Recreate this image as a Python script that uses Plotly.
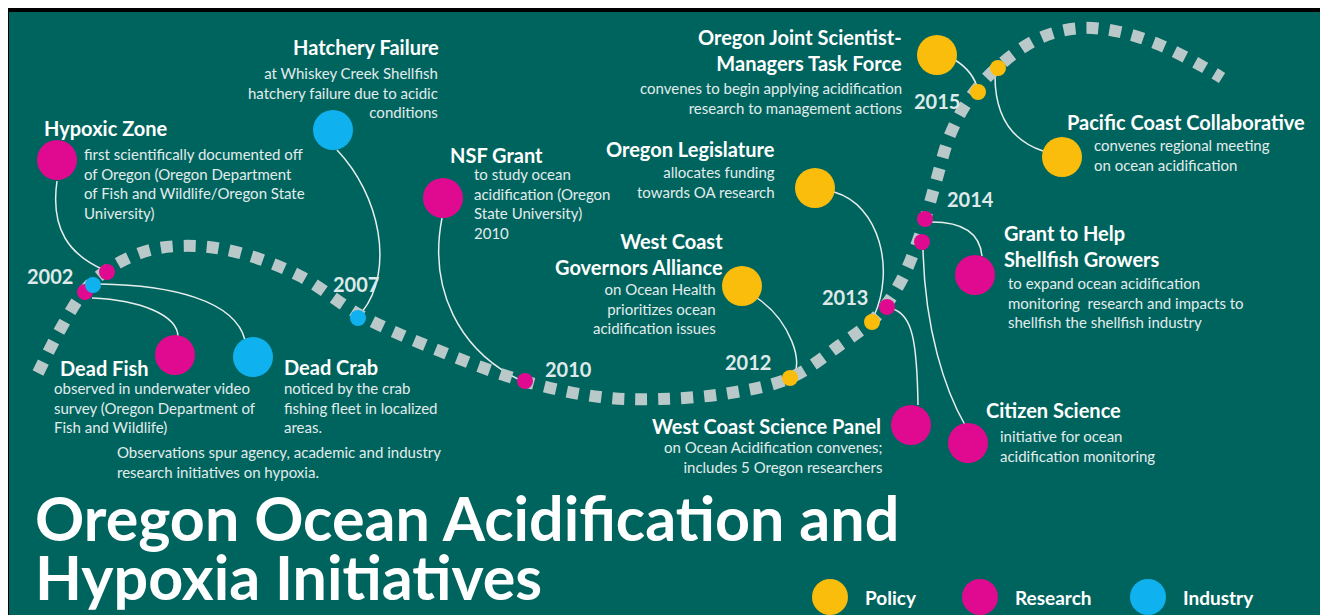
import plotly.graph_objects as go

W, H = 1328, 615
OFF = 8  # page body margin of the html page

# ---------------- data ----------------
titles = ["Hypoxic Zone", "Dead Fish", "Dead Crab", "Hatchery Failure", "NSF Grant",
          "Oregon Legislature", "West Coast<br>Governors Alliance", "West Coast Science Panel",
          "Oregon Joint Scientist-<br>Managers Task Force", "Pacific Coast Collaborative",
          "Grant to Help<br>Shellfish Growers", "Citizen Science"]
descriptions = [
    "first scientifically documented off<br>of Oregon (Oregon Department<br>of Fish and Wildlife/Oregon State<br>University)",
    "observed in underwater video<br>survey (Oregon Department of<br>Fish and Wildlife)",
    "noticed by the crab<br>fishing fleet in localized<br>areas.",
    "at Whiskey Creek Shellfish<br>hatchery failure due to acidic<br>conditions",
    "to study ocean<br>acidification (Oregon<br>State University)<br>2010",
    "allocates funding<br>towards OA research",
    "on Ocean Health<br>prioritizes ocean<br>acidification issues",
    "on Ocean Acidification convenes;<br>includes 5 Oregon researchers",
    "convenes to begin applying acidification<br>research to management actions",
    "convenes regional meeting<br>on ocean acidification",
    "to expand ocean acidification<br>monitoring  research and impacts to<br>shellfish the shellfish industry",
    "initiative for ocean<br>acidification monitoring",
]
categories = ["Research", "Research", "Industry", "Industry", "Research", "Policy",
              "Policy", "Research", "Policy", "Policy", "Research", "Research"]
years = [2002, 2002, 2002, 2007, 2010, 2013, 2012, 2013, 2015, 2015, 2014, 2014]
year_labels = ["2002", "2007", "2010", "2012", "2013", "2014", "2015"]
note_text = "Observations spur agency, academic and industry<br>research initiatives on hypoxia."
main_title = ["Oregon Ocean Acidification and", "Hypoxia Initiatives"]
legend_labels = ["Policy", "Research", "Industry"]

# ---------------- layout positions (pixels) ----------------
big_x = [57, 175, 253, 333, 443, 815, 742, 911, 937, 1062, 975, 968]
big_y = [160, 355, 357, 130, 198, 188, 286, 425, 55, 157, 275, 443]
dot_x = [107, 85, 93, 358, 525, 872, 790, 887, 978, 998, 925, 922]
dot_y = [272, 292, 285, 318, 381, 322, 378, 307, 92, 68, 219, 242]

title_pos = [(42, 128, "left"), (58, 368, "left"), (282, 367, "left"), (441, 47, "right"),
             (448, 155, "left"), (777, 149, "right"), (725, 254, "right"), (883, 426, "right"),
             (904, 50, "right"), (1065, 122, "left"), (1002, 246, "left"), (984, 410, "left")]
desc_pos = [(82, 183, "left"), (52, 407, "left"), (282, 407, "left"), (440, 92, "right"),
            (472, 203, "left"), (777, 182, "right"), (718, 308, "right"), (884, 457, "right"),
            (904, 98, "right"), (1092, 155, "left"), (1006, 302, "left"), (998, 446, "left")]
year_pos = [(50, 276), (356, 284), (568, 369), (748, 362), (845, 297), (970, 199), (937, 101)]

connectors = [
    "M 57,181 C 50,230 70,255 104,270",
    "M 92,298 C 140,300 178,315 178,337",
    "M 100,284 C 170,285 235,300 245,340",
    "M 337,150 C 380,195 395,270 362,312",
    "M 442,218 C 428,290 460,350 518,379",
    "M 834,192 C 880,205 895,270 874,316",
    "M 757,298 C 790,320 805,365 792,376",
    "M 893,309 C 912,315 917,340 918,405",
    "M 955,60 C 968,68 975,78 978,90",
    "M 995,76 C 995,115 1010,140 1043,151",
    "M 932,222 C 965,222 980,235 982,256",
    "M 923,250 C 925,330 945,390 965,425",
]

path_x = [38, 60, 85, 110, 150, 195, 240, 300, 360, 430, 520, 600, 660, 730, 790, 840,
          875, 900, 920, 935, 950, 970, 1000, 1040, 1080, 1120, 1160, 1200, 1222]
path_y = [373, 330, 290, 268, 250, 246, 253, 276, 315, 347, 380, 397, 399, 393, 378, 345,
          318, 283, 235, 185, 135, 98, 65, 38, 28, 32, 45, 65, 78]

legend_x = [830, 980, 1148]
legend_y = 597

colors = {"Policy": "#fbbd0c", "Research": "#df0a8f", "Industry": "#0fb2ee"}
TEAL = "#00645e"
BODY = "Lato"

fig = go.Figure()

shapes = [
    dict(type="rect", x0=5, y0=8, x1=1340, y1=640, fillcolor="black", line_width=0, layer="below"),
    dict(type="rect", x0=9, y0=12, x1=1325, y1=640, fillcolor=TEAL, line_width=0, layer="below"),
]
for p in connectors:
    shapes.append(dict(type="path", path=p, line=dict(color="#e6eeee", width=1.5), layer="below"))

# timeline
fig.add_trace(go.Scatter(x=path_x, y=path_y, mode="lines", hoverinfo="skip",
                         line=dict(color="#b9c8c8", width=12, dash="12px,11px",
                                   shape="spline", smoothing=1.0)))

for cat in ["Research", "Industry", "Policy"]:
    idx = [i for i, c in enumerate(categories) if c == cat]
    fig.add_trace(go.Scatter(x=[big_x[i] for i in idx], y=[big_y[i] for i in idx], mode="markers",
                             marker=dict(size=40, color=colors[cat], line_width=0), hoverinfo="skip"))
    fig.add_trace(go.Scatter(x=[dot_x[i] for i in idx], y=[dot_y[i] for i in idx], mode="markers",
                             marker=dict(size=16, color=colors[cat], line_width=0), hoverinfo="skip"))

# legend circles
fig.add_trace(go.Scatter(x=legend_x, y=[legend_y] * 3, mode="markers", hoverinfo="skip",
                         marker=dict(size=36, color=[colors[l] for l in legend_labels], line_width=0)))

ann = []
for i in range(len(titles)):
    tx, ty, ta = title_pos[i]
    ann.append(dict(x=tx, y=ty, text="<b>" + titles[i] + "</b>", xanchor=ta, yanchor="middle",
                    align=ta, showarrow=False, font=dict(family=BODY, size=20, color="white")))
    dx, dy, da = desc_pos[i]
    ann.append(dict(x=dx, y=dy, text=descriptions[i], xanchor=da, yanchor="middle", align=da,
                    showarrow=False, font=dict(family=BODY, size=15, color="#e2ecec")))
for (yx, yy), lab in zip(year_pos, year_labels):
    ann.append(dict(x=yx, y=yy, text="<b>" + lab + "</b>", xanchor="center", yanchor="middle",
                    showarrow=False, font=dict(family=BODY, size=20, color="#dfe9e9")))
ann.append(dict(x=115, y=462, text=note_text, xanchor="left", yanchor="middle", align="left",
                showarrow=False, font=dict(family=BODY, size=15, color="#e2ecec")))
ann.append(dict(x=33, y=517, text="<b>" + main_title[0] + "</b>", xanchor="left", yanchor="middle",
                showarrow=False, font=dict(family=BODY, size=61, color="white")))
ann.append(dict(x=33, y=576, text="<b>" + main_title[1] + "</b>", xanchor="left", yanchor="middle",
                showarrow=False, font=dict(family=BODY, size=61, color="white")))
for lx, lab in zip(legend_x, legend_labels):
    ann.append(dict(x=lx + 33, y=legend_y, text="<b>" + lab + "</b>", xanchor="left", yanchor="middle",
                    showarrow=False, font=dict(family=BODY, size=19, color="white")))

fig.update_layout(
    width=W - OFF, height=H - OFF, autosize=False,
    margin=dict(l=0, r=0, t=0, b=0),
    paper_bgcolor="white", plot_bgcolor="white",
    showlegend=False,
    xaxis=dict(range=[OFF, W], visible=False, fixedrange=True),
    yaxis=dict(range=[H, OFF], visible=False, fixedrange=True),
    shapes=shapes, annotations=ann,
)

fig.write_html("out.html")
